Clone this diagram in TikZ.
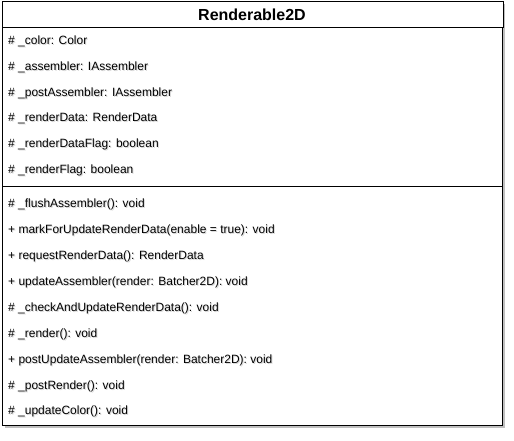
\documentclass[tikz,border=0pt]{standalone}
\usepackage{fontspec}
\setmainfont{Liberation Sans}
\usetikzlibrary{shadows}
\begin{document}
\begin{tikzpicture}[x=1pt,y=-1pt,
  classbox/.style={draw=black,line width=1.1pt,fill=white,
    drop shadow={shadow xshift=2pt,shadow yshift=-2pt,opacity=0.25,fill=black}},
  titlebox/.style={draw=black,line width=1.1pt,fill=white},
  item/.style={anchor=west,inner sep=0pt,font=\fontsize{12}{14}\selectfont},
  itemshadow/.style={item,text=black!30,opacity=0.5},
  divider/.style={draw=black,line width=1pt},
  titletext/.style={inner sep=0pt,font=\fontsize{16}{18}\selectfont\bfseries}]
\useasboundingbox (0,0) rectangle (514,441);
% main box
\node[classbox,minimum width=500pt,minimum height=424pt,inner sep=0pt,anchor=north west] (box) at (2,1) {};
\node[titlebox,minimum width=501pt,minimum height=26pt,inner sep=0pt,anchor=north west] (head) at (2,1) {};
\node[titletext] (title) at (252,15) {Renderable2D};
\coordinate (dl) at (2,186);
\coordinate (dr) at (502,186);
\draw[divider] (dl) -- (dr);
% attributes and methods
\foreach \y/\t/\n in {
  41/{\# \_color: Color}/a1,
  67/{\# \_assembler: IAssembler}/a2,
  93/{\# \_postAssembler: IAssembler}/a3,
  118/{\# \_renderData: RenderData}/a4,
  144/{\# \_renderDataFlag: boolean}/a5,
  170/{\# \_renderFlag: boolean}/a6,
  204/{\# \_flushAssembler(): void}/m1,
  230/{+ markForUpdateRenderData(enable = true): void}/m2,
  256/{+ requestRenderData(): RenderData}/m3,
  282/{+ updateAssembler(render: Batcher2D): void}/m4,
  308/{\# \_checkAndUpdateRenderData(): void}/m5,
  334/{\# \_render(): void}/m6,
  360/{+ postUpdateAssembler(render: Batcher2D): void}/m7,
  386/{\# \_postRender(): void}/m8,
  411/{\# \_updateColor(): void}/m9}{
  \node[itemshadow] at (9,\y+1.5) {\t};
  \node[item] (\n) at (8,\y) {\t};
}
\end{tikzpicture}
\end{document}
